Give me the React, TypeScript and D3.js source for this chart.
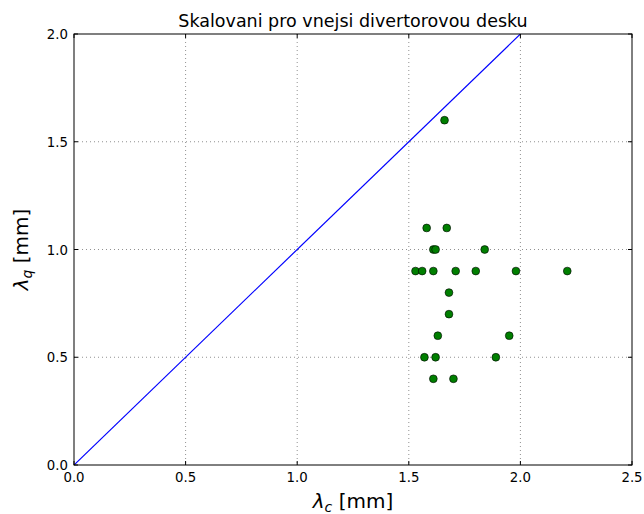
import React from "react";
import * as d3 from "d3";

// measured lambda_c / lambda_q pairs [mm]
const lambdaC = [1.66, 1.58, 1.67, 1.61, 1.62, 1.84, 1.53, 1.56, 1.61, 1.71, 1.8, 1.98, 2.21, 1.68, 1.68, 1.63, 1.95, 1.57, 1.62, 1.89, 1.61, 1.7];
const lambdaQ = [1.6, 1.1, 1.1, 1.0, 1.0, 1.0, 0.9, 0.9, 0.9, 0.9, 0.9, 0.9, 0.9, 0.8, 0.7, 0.6, 0.6, 0.5, 0.5, 0.5, 0.4, 0.4];
const xTicks = [0, 0.5, 1.0, 1.5, 2.0, 2.5];
const yTicks = [0, 0.5, 1.0, 1.5, 2.0];
const refLine = [0, 2.5];

const width = 644;
const height = 514;
const left = 74;
const right = 632;
const top = 34;
const bottom = 465;

const App = () => {
  const x = d3.scaleLinear([0, 2.5], [left, right]);
  const y = d3.scaleLinear([0, 2.0], [bottom, top]);
  const fmt = d3.format(".1f");
  const line = d3
    .line<number>()
    .x((d) => x(d))
    .y((d) => y(d));

  return (
    <svg
      width={width}
      height={height}
      style={{ position: "absolute", left: 0, top: 0, fontFamily: "DejaVu Sans" }}
    >
      <rect width={width} height={height} fill="#fff" />
      <defs>
        <clipPath id="plot">
          <rect x={left} y={top} width={right - left} height={bottom - top} />
        </clipPath>
      </defs>
      <text x={(left + right) / 2} y={27} textAnchor="middle" fontSize={17.5}>
        Skalovani pro vnejsi divertorovou desku
      </text>

      {/* grid */}
      <g stroke="#000" strokeOpacity={0.55} strokeWidth={0.8} strokeDasharray="1,3">
        {xTicks.slice(1, -1).map((t) => (
          <line key={"gx" + t} x1={x(t)} x2={x(t)} y1={top} y2={bottom} />
        ))}
        {yTicks.slice(1, -1).map((t) => (
          <line key={"gy" + t} x1={left} x2={right} y1={y(t)} y2={y(t)} />
        ))}
      </g>

      <g clipPath="url(#plot)">
        <path d={line(refLine) ?? ""} fill="none" stroke="#0000ff" strokeWidth={1.2} />
      </g>

      <g fill="#007f00" stroke="#000" strokeWidth={0.6}>
        {lambdaC.map((c, i) => (
          <circle key={i} cx={x(c)} cy={y(lambdaQ[i])} r={3.9} />
        ))}
      </g>

      {/* frame and inward ticks */}
      <rect x={left} y={top} width={right - left} height={bottom - top} fill="none" stroke="#000" strokeWidth={1} />
      <g stroke="#000" strokeWidth={1}>
        {xTicks.map((t) => (
          <g key={"tx" + t}>
            <line x1={x(t)} x2={x(t)} y1={bottom} y2={bottom - 4} />
            <line x1={x(t)} x2={x(t)} y1={top} y2={top + 4} />
          </g>
        ))}
        {yTicks.map((t) => (
          <g key={"ty" + t}>
            <line x1={left} x2={left + 4} y1={y(t)} y2={y(t)} />
            <line x1={right} x2={right - 4} y1={y(t)} y2={y(t)} />
          </g>
        ))}
      </g>

      <g fontSize={13.3} fill="#000">
        {xTicks.map((t) => (
          <text key={"lx" + t} x={x(t)} y={bottom + 17} textAnchor="middle">
            {fmt(t)}
          </text>
        ))}
        {yTicks.map((t) => (
          <text key={"ly" + t} x={left - 6} y={y(t) + 5} textAnchor="end">
            {fmt(t)}
          </text>
        ))}
      </g>

      <text x={(left + right) / 2} y={508} textAnchor="middle" fontSize={20}>
        <tspan fontStyle="italic">λ</tspan>
        <tspan fontStyle="italic" fontSize={14} dy={4}>c</tspan>
        <tspan dy={-4}> [mm]</tspan>
      </text>
      <text
        transform={`translate(28,${(top + bottom) / 2}) rotate(-90)`}
        textAnchor="middle"
        fontSize={20}
      >
        <tspan fontStyle="italic">λ</tspan>
        <tspan fontStyle="italic" fontSize={14} dy={4}>q</tspan>
        <tspan dy={-4}> [mm]</tspan>
      </text>
    </svg>
  );
};

export default App;
